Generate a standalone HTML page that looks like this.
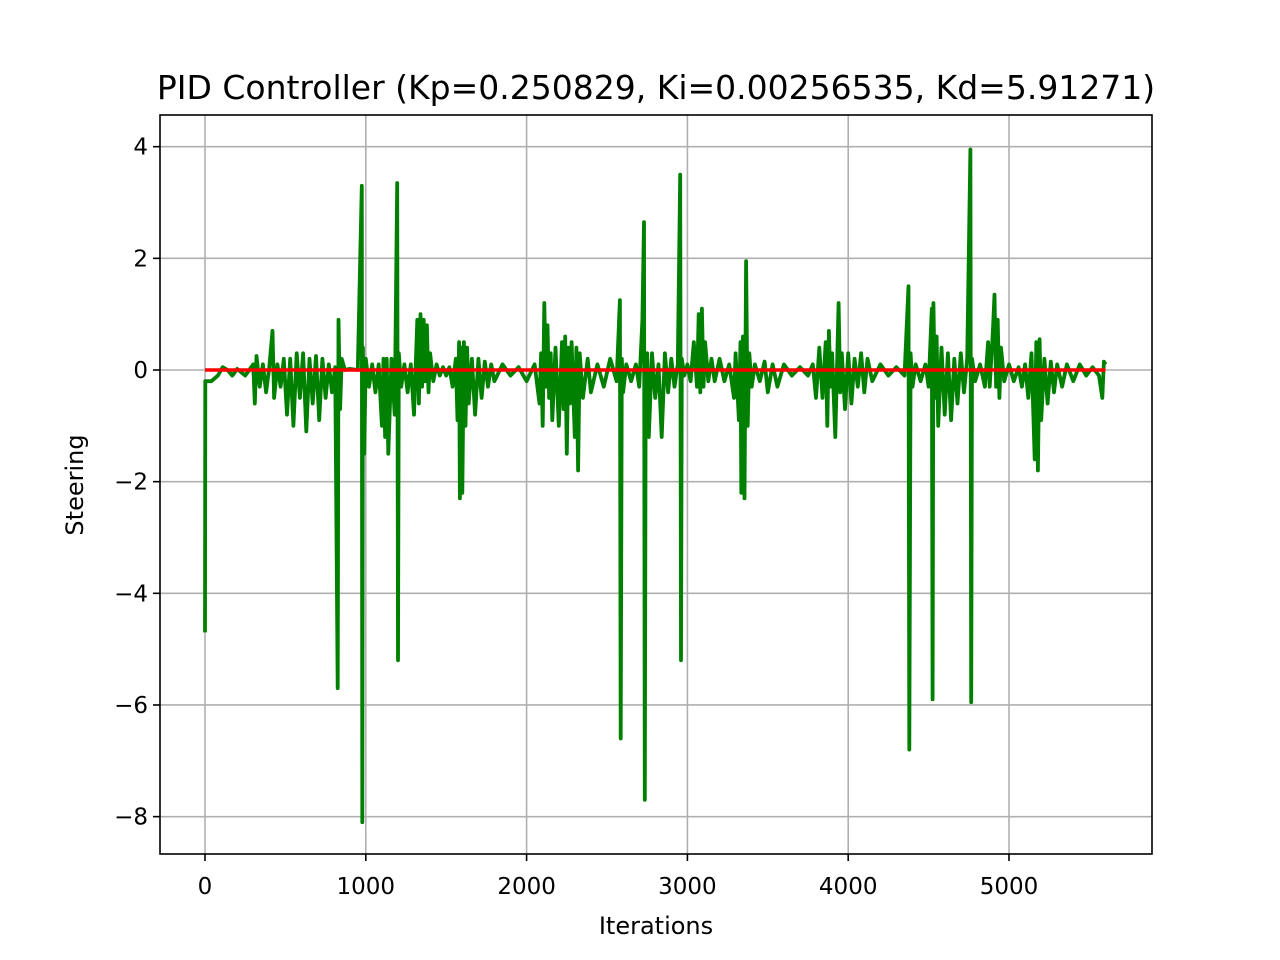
<!DOCTYPE html>
<html><head><meta charset="utf-8"><style>
body{margin:0;background:#fff;}
svg{display:block;font-family:"DejaVu Sans","Liberation Sans",sans-serif;}
</style></head><body>
<svg id="chart" width="1280" height="960">
<rect x="0" y="0" width="1280" height="960" fill="#fff"/>
<g id="grid"></g><g id="series"></g><g id="axes"></g>
<text x="656" y="99" font-size="33" text-anchor="middle">PID Controller (Kp=0.250829, Ki=0.00256535, Kd=5.91271)</text>
<text x="656" y="934" font-size="24" text-anchor="middle">Iterations</text>
<text transform="translate(83,485) rotate(-90)" font-size="24" text-anchor="middle">Steering</text>
</svg>
<script>
const xTicks=[0,1000,2000,3000,4000,5000];
const yTicks=[4,2,0,-2,-4,-6,-8];
const yTickLabels=["4","2","0","−2","−4","−6","−8"];
const iterations=[0,2,40,80,110,140,170,200,250,300,310,320,340,360,380,400,420,430,450,470,490,510,530,550,570,590,610,630,650,670,690,710,730,750,770,790,810,825,830,840,850,870,900,950,975,978,982,990,1000,1020,1040,1060,1080,1100,1110,1120,1130,1140,1160,1180,1195,1200,1205,1220,1240,1260,1280,1300,1320,1330,1340,1350,1360,1370,1380,1390,1400,1420,1440,1460,1480,1500,1520,1540,1560,1570,1580,1585,1595,1600,1610,1620,1630,1640,1660,1680,1700,1720,1740,1760,1780,1800,1850,1900,1950,2000,2050,2080,2090,2100,2110,2120,2130,2140,2150,2160,2180,2200,2220,2230,2240,2250,2260,2270,2280,2300,2310,2320,2330,2350,2380,2400,2440,2480,2520,2560,2580,2585,2592,2600,2620,2650,2680,2700,2720,2730,2735,2740,2750,2760,2780,2800,2820,2840,2860,2880,2900,2920,2940,2955,2960,2965,2980,3000,3020,3040,3060,3070,3080,3090,3100,3110,3130,3150,3170,3200,3230,3260,3290,3300,3320,3330,3335,3345,3355,3365,3375,3385,3400,3420,3450,3480,3500,3530,3560,3600,3650,3700,3750,3780,3800,3820,3840,3860,3870,3880,3890,3900,3920,3940,3950,3960,3980,4000,4020,4040,4060,4080,4100,4120,4150,4200,4250,4300,4350,4375,4380,4388,4400,4420,4450,4480,4500,4520,4525,4530,4540,4550,4560,4580,4600,4620,4640,4660,4680,4700,4720,4740,4760,4765,4770,4790,4820,4850,4870,4880,4900,4910,4920,4930,4940,4950,4970,5000,5030,5060,5080,5100,5120,5140,5160,5170,5180,5190,5200,5220,5240,5260,5280,5300,5330,5360,5400,5440,5480,5520,5560,5580,5590,5600];
const steering=[-4.7,-0.2,-0.2,-0.1,0.05,0,-0.1,0.02,-0.1,0.1,-0.6,0.25,-0.3,0.1,-0.4,0.05,0.7,-0.5,0.1,-0.3,0.2,-0.8,0.2,-1.0,0.3,-0.5,0.3,-1.1,0.2,-0.6,0.25,-0.9,0.2,-0.5,0.1,-0.4,0.05,-5.7,0.9,-0.7,0.2,0,0.02,0,3.3,-8.1,0.4,-1.5,0.2,-0.3,0.1,-0.4,0.1,-1.0,0.2,-1.2,0.2,-1.5,0.2,-0.8,3.35,-5.2,0.3,-0.3,0.1,-0.4,0.1,-0.8,0.9,-0.6,1.0,-0.3,0.9,-0.2,0.8,-0.4,0.3,-0.2,0.1,-0.1,0.05,-0.1,0.05,-0.3,0.2,-0.9,0.5,-2.3,0.4,-2.2,0.5,-1.0,0.4,-0.6,0.2,-0.8,0.2,-0.5,0.15,-0.3,0.1,-0.2,0.1,-0.1,0.05,-0.2,0.1,-0.6,0.3,-1.0,1.2,-0.3,0.8,-0.5,0.3,-0.9,0.4,-1.0,0.5,-0.7,0.6,-1.5,0.4,-0.6,0.5,-1.2,0.4,-1.8,0.3,-0.5,0.2,-0.4,0.1,-0.3,0.2,-0.2,1.25,-6.6,0.2,-0.4,0.1,-0.2,0.1,-0.3,0.9,2.65,-7.7,-0.8,0.3,-1.2,0.3,-0.5,0.1,-1.2,0.3,-0.4,0.2,-0.3,0.1,3.5,-5.2,0.2,-0.1,0.1,-0.2,0.5,-0.3,1.0,-0.4,1.1,-0.3,0.5,-0.2,0.2,-0.2,0.2,-0.2,0.1,-0.5,0.3,-0.9,0.5,-2.2,0.6,-2.3,1.95,-1.0,0.3,-0.3,0.1,-0.2,0.15,-0.4,0.1,-0.3,0.1,-0.1,0.05,-0.1,0.1,-0.5,0.4,-0.5,0.5,-1.0,0.7,-0.3,0.3,-1.2,1.2,-0.4,0.3,-0.7,0.3,-0.6,0.2,-0.3,0.3,-0.4,0.2,-0.2,0.1,-0.1,0.05,-0.1,1.5,-6.8,0.3,-0.3,0.1,-0.2,0.1,-0.3,1.1,-5.9,1.2,-0.5,0.6,-1.0,0.4,-0.8,0.3,-0.9,0.2,-0.6,0.3,-0.4,0.2,3.95,-5.95,0.2,-0.2,0.1,-0.3,0.5,-0.3,0.7,1.35,-0.3,0.9,-0.5,0.4,-0.2,0.1,-0.2,0.05,-0.3,0.1,-0.5,0.3,-1.6,0.5,-1.8,0.55,-0.9,0.2,-0.6,0.15,-0.4,0.1,-0.3,0.1,-0.2,0.1,-0.1,0.05,-0.1,-0.5,0.15,0.1];
const target=[0,0];
const targetX=[0,5600];

const NS="http://www.w3.org/2000/svg";
const L=160,R=1152,T=115,B=854;
function xs(v){return 205+v*0.1608;}
function ys(v){return 370-v*55.83;}
function mk(tag,attrs,parent){const e=document.createElementNS(NS,tag);for(const k in attrs)e.setAttribute(k,attrs[k]);parent.appendChild(e);return e;}
const grid=document.getElementById('grid'),series=document.getElementById('series'),axes=document.getElementById('axes');
xTicks.forEach(t=>{
  const g=mk('line',{x1:xs(t),x2:xs(t),y1:T,y2:B,stroke:'#b0b0b0','stroke-width':1.6},grid);
  
  
  mk('line',{x1:xs(t),x2:xs(t),y1:B,y2:B+7,stroke:'#000','stroke-width':1.6},axes);
  const tx=mk('text',{x:xs(t),y:B+40,'font-size':23,'text-anchor':'middle'},axes);
  tx.textContent=t;
  
  
});
yTicks.forEach((t,i)=>{
  const g=mk('line',{x1:L,x2:R,y1:ys(t),y2:ys(t),stroke:'#b0b0b0','stroke-width':1.6},grid);
  
  
  mk('line',{x1:L-7,x2:L,y1:ys(t),y2:ys(t),stroke:'#000','stroke-width':1.6},axes);
  const tx=mk('text',{x:L-12,y:ys(t)+8,'font-size':23,'text-anchor':'end'},axes);
  tx.textContent=yTickLabels[i];
  
  
});
let d=iterations.map((v,i)=>(i?'L':'M')+xs(v).toFixed(1)+' '+ys(steering[i]).toFixed(1)).join('');
const p=mk('path',{d:d,fill:'none',stroke:'#008000','stroke-width':3.8,'stroke-linejoin':'round'},series);


const r=mk('path',{d:'M'+xs(targetX[0])+' '+ys(target[0])+'L'+xs(targetX[1])+' '+ys(target[1]),stroke:'#ff0000','stroke-width':3.6,fill:'none'},series);


const f=mk('rect',{x:L,y:T,width:R-L,height:B-T,fill:'none',stroke:'#000','stroke-width':1.6},axes);


</script>
</body></html>
